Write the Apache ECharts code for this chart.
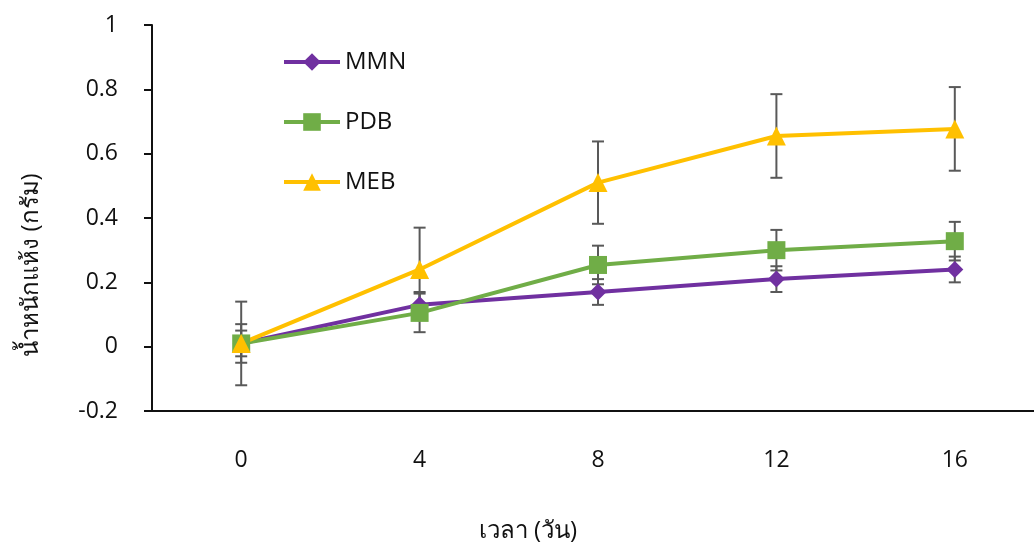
<!DOCTYPE html>
<html>
<head>
<meta charset="utf-8">
<script src="https://cdn.jsdelivr.net/npm/echarts@6/dist/echarts.min.js"></script>
<style>html,body{margin:0;padding:0;background:#fff;}#c{width:1034px;height:545px;}</style>
</head>
<body>
<div id="c"></div>
<script>
var days = ['0', '4', '8', '12', '16'];
var yTicks = [-0.2, 0, 0.2, 0.4, 0.6, 0.8, 1];
var mmn = [0.01, 0.13, 0.17, 0.21, 0.24];
var mmnErr = [0.04, 0.04, 0.04, 0.04, 0.04];
var pdb = [0.01, 0.105, 0.254, 0.30, 0.328];
var pdbErr = [0.06, 0.06, 0.06, 0.063, 0.06];
var meb = [0.01, 0.24, 0.51, 0.655, 0.677];
var mebErr = [0.13, 0.13, 0.128, 0.13, 0.13];

var FONT = '"Open Sans", "Noto Sans", sans-serif';

function errData(vals, errs) {
  return vals.map(function (v, i) { return [i, v - errs[i], v + errs[i]]; });
}
function errSeries(vals, errs) {
  return {
    type: 'custom',
    z: 1,
    silent: true,
    data: errData(vals, errs),
    encode: { x: 0, y: [1, 2] },
    renderItem: function (params, api) {
      var x = api.value(0);
      var lo = api.coord([x, api.value(1)]);
      var hi = api.coord([x, api.value(2)]);
      var w = 6;
      var st = { stroke: '#595959', lineWidth: 2 };
      return {
        type: 'group',
        children: [
          { type: 'line', shape: { x1: hi[0], y1: hi[1], x2: lo[0], y2: lo[1] }, style: st },
          { type: 'line', shape: { x1: hi[0] - w, y1: hi[1], x2: hi[0] + w, y2: hi[1] }, style: st },
          { type: 'line', shape: { x1: lo[0] - w, y1: lo[1], x2: lo[0] + w, y2: lo[1] }, style: st }
        ]
      };
    }
  };
}
function lineSeries(name, vals, color, symbol, size) {
  return {
    name: name, type: 'line', data: vals, z: 3,
    symbol: symbol, symbolSize: size,
    lineStyle: { color: color, width: 4 },
    itemStyle: { color: color },
    emphasis: { disabled: true }
  };
}

var chart = echarts.init(document.getElementById('c'));
chart.setOption({
  animation: false,
  textStyle: { fontFamily: FONT },
  grid: { left: 152, top: 25, width: 892, height: 386, outerBoundsMode: 'none', containLabel: false },
  legend: {
    orient: 'vertical', left: 277, top: 45,
    itemWidth: 56, itemHeight: 22, itemGap: 36,
    lineStyle: { width: 4 },
    textStyle: { fontSize: 24, color: '#111', fontFamily: FONT },
    data: ['MMN', 'PDB', 'MEB']
  },
  xAxis: {
    type: 'category', data: days, boundaryGap: true,
    name: 'เวลา (วัน)', nameLocation: 'middle', nameGap: 108,
    nameTextStyle: { fontSize: 24, color: '#111', padding: [0, 140, 0, 0] },
    axisLine: { onZero: false, lineStyle: { color: '#111', width: 2 } },
    axisTick: { alignWithLabel: true, length: 8, lineStyle: { color: '#111', width: 2 } },
    axisLabel: { fontSize: 23, color: '#111', margin: 38 },
    splitLine: { show: false }
  },
  yAxis: {
    type: 'value', min: yTicks[0], max: yTicks[yTicks.length - 1], interval: 0.2,
    name: 'น้ำหนักแห้ง (กรัม)', nameLocation: 'middle', nameGap: 109,
    nameTextStyle: { fontSize: 24, color: '#111', padding: [0, 94, 0, 0] },
    axisLine: { show: true, lineStyle: { color: '#111', width: 2 } },
    axisTick: { show: true, length: 8, lineStyle: { color: '#111', width: 2 } },
    axisLabel: { fontSize: 23, color: '#111', margin: 34,
      formatter: function (v) { return String(Math.round(v * 10) / 10); } },
    splitLine: { show: false }
  },
  series: [
    errSeries(mmn, mmnErr),
    errSeries(pdb, pdbErr),
    errSeries(meb, mebErr),
    lineSeries('MMN', mmn, '#7030A0', 'diamond', 17),
    lineSeries('PDB', pdb, '#70AD47', 'rect', 18),
    lineSeries('MEB', meb, '#FFC000', 'triangle', 19)
  ]
});
</script>
</body>
</html>
